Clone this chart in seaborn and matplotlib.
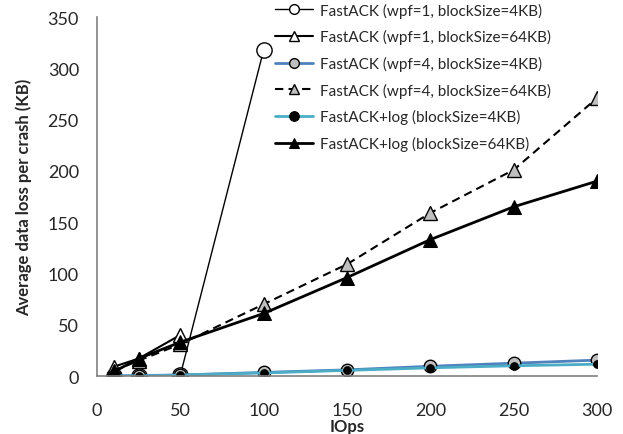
import numpy as np
import pandas as pd
import matplotlib
matplotlib.use("Agg")
import matplotlib.pyplot as plt
import seaborn as sns

# dati
iops = [10, 25, 50, 100, 150, 200, 250, 300]
iops_wpf1 = [10, 25, 50, 100]
iops_wpf1_64 = [10, 25, 50]

wpf1_4kb = [0, 0, 1, 318]
wpf1_64kb = [9, 17, 40]
wpf4_4kb = [0, 0.5, 1, 3.5, 6, 9.5, 12.5, 15.5]
wpf4_64kb = [5, 15, 31, 70, 109, 159, 201, 271]
log_4kb = [0, 0, 1, 3, 5.5, 8, 10, 11.5]
log_64kb = [4, 17, 33, 61, 96, 133, 165, 190]

labels = ["FastACK (wpf=1, blockSize=4KB)",
          "FastACK (wpf=1, blockSize=64KB)",
          "FastACK (wpf=4, blockSize=4KB)",
          "FastACK (wpf=4, blockSize=64KB)",
          "FastACK+log (blockSize=4KB)",
          "FastACK+log (blockSize=64KB)"]

sns.set_style("white")
plt.rcParams['font.family'] = ['Lato', 'DejaVu Sans']

fig = plt.figure(figsize=(6.23, 4.35), dpi=100)
ax = fig.add_axes([0.1557, 0.1333, 0.8027, 0.8253])

sns.lineplot(x=iops_wpf1, y=wpf1_4kb, ax=ax, color='black', linewidth=1.0,
             marker='o', markersize=11, markerfacecolor='white',
             markeredgecolor='black', markeredgewidth=1.0, label=labels[0])
sns.lineplot(x=iops_wpf1_64, y=wpf1_64kb, ax=ax, color='black', linewidth=1.5,
             marker='^', markersize=10, markerfacecolor='white',
             markeredgecolor='black', markeredgewidth=1.0, label=labels[1])
sns.lineplot(x=iops, y=wpf4_4kb, ax=ax, color='#4F81BD', linewidth=2.0,
             marker='o', markersize=9, markerfacecolor='#BFBFBF',
             markeredgecolor='black', markeredgewidth=1.0, label=labels[2])
sns.lineplot(x=iops, y=wpf4_64kb, ax=ax, color='black', linewidth=1.5,
             linestyle=(0, (4, 2.5)),
             marker='^', markersize=10, markerfacecolor='#BFBFBF',
             markeredgecolor='black', markeredgewidth=1.0, label=labels[3])
sns.lineplot(x=iops, y=log_4kb, ax=ax, color='#4BACC6', linewidth=2.0,
             marker='o', markersize=5.5, markerfacecolor='black',
             markeredgecolor='black', label=labels[4])
sns.lineplot(x=iops, y=log_64kb, ax=ax, color='black', linewidth=2.0,
             marker='^', markersize=10, markerfacecolor='black',
             markeredgecolor='black', label=labels[5])

ax.set_xlim(0, 300)
ax.set_ylim(0, 350)
ax.set_xticks(range(0, 301, 50))
ax.set_yticks(range(0, 351, 50))
ax.tick_params(axis='both', labelsize=13, length=0)
ax.tick_params(axis='y', pad=13)
ax.tick_params(axis='x', pad=19)
ax.set_xlabel('IOps', fontsize=12, fontweight='bold', labelpad=0)
ax.set_ylabel('Average data loss per crash (KB)', fontsize=12, fontweight='bold', labelpad=11)

for s in ['top', 'right']:
    ax.spines[s].set_visible(False)
for s in ['left', 'bottom']:
    ax.spines[s].set_color('#808080')
    ax.spines[s].set_linewidth(1.2)

leg = ax.legend(loc='upper left', bbox_to_anchor=(0.432, 1.006), bbox_transform=fig.transFigure,
                frameon=False, fontsize=11, handlelength=2.5, handletextpad=0.4,
                labelspacing=0.76, borderaxespad=0)
for line in leg.get_lines():
    line.set_markersize(7)

ax.grid(False)
fig.savefig('out.png', dpi=100)
